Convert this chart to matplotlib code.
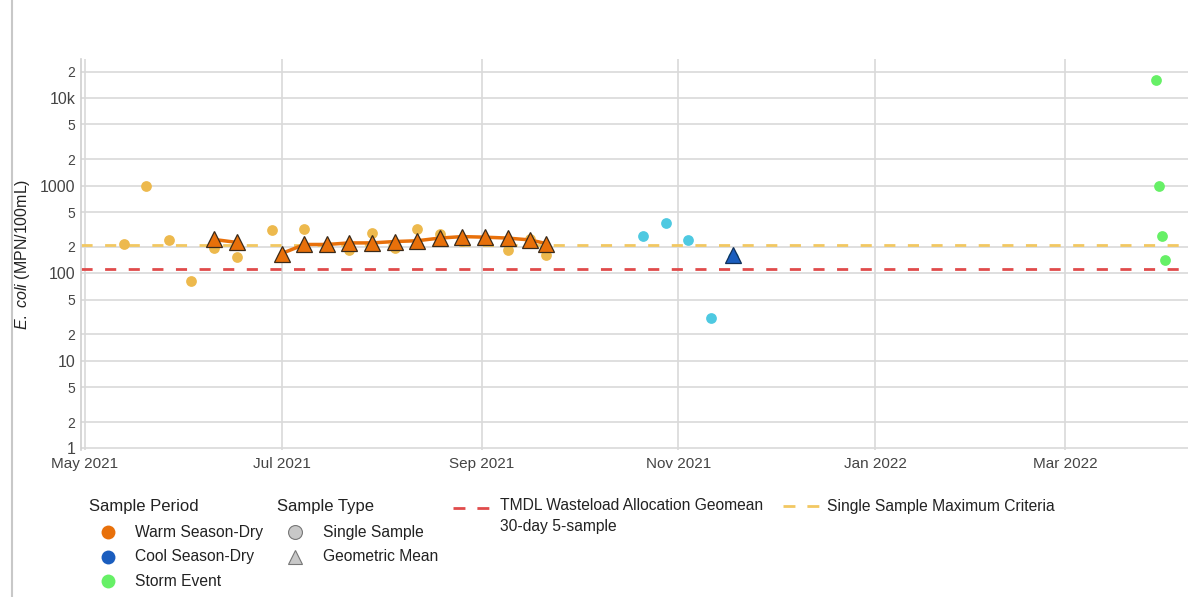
import matplotlib.pyplot as plt
import matplotlib.dates as mdates
from matplotlib.lines import Line2D
import pandas as pd

plt.rcParams["font.family"] = ["Liberation Sans", "DejaVu Sans"]
plt.rcParams["mathtext.fontset"] = "custom"
plt.rcParams["mathtext.rm"] = "Liberation Sans"
plt.rcParams["mathtext.it"] = "Liberation Sans:italic"

# single samples - warm season dry
warm_dates = ["2021-05-13", "2021-05-20", "2021-05-27", "2021-06-03", "2021-06-10",
              "2021-06-17", "2021-06-28", "2021-07-01", "2021-07-08", "2021-07-15",
              "2021-07-22", "2021-07-29", "2021-08-05", "2021-08-12", "2021-08-19",
              "2021-08-26", "2021-09-02", "2021-09-09", "2021-09-16", "2021-09-21"]
warm_vals = [214, 1000, 237, 82, 192, 152, 309, 152, 324, 204,
             183, 285, 192, 324, 282, 232, 240, 184, 244, 161]

# geometric means - warm season dry (two runs)
warm_gm1_dates = ["2021-06-10", "2021-06-17"]
warm_gm1_vals = [243, 225]
warm_gm2_dates = ["2021-07-01", "2021-07-08", "2021-07-15", "2021-07-22", "2021-07-29",
                  "2021-08-05", "2021-08-12", "2021-08-19", "2021-08-26", "2021-09-02",
                  "2021-09-09", "2021-09-16", "2021-09-21"]
warm_gm2_vals = [168, 213, 213, 222, 222, 230, 235, 252, 262, 258, 252, 240, 218]

# cool season dry
cool_dates = ["2021-10-21", "2021-10-28", "2021-11-04", "2021-11-11", "2021-11-18"]
cool_vals = [264, 370, 237, 31, 152]
cool_gm_dates = ["2021-11-18"]
cool_gm_vals = [160]

# storm event
storm_dates = ["2022-03-29", "2022-03-30", "2022-03-31", "2022-04-01"]
storm_vals = [16000, 1000, 265, 141]

tmdl_level = 112
ssm_level = 212

ytick_vals = [1, 2, 5, 10, 20, 50, 100, 200, 500, 1000, 2000, 5000, 10000, 20000]
ytick_labels = ["1", "2", "5", "10", "2", "5", "100", "2", "5", "1000", "2", "5", "10k", "2"]

C_WARM_SS = "#EDB94D"
C_WARM_GM = "#E8700A"
C_COOL_SS = "#4EC9E1"
C_COOL_GM = "#1A5DBE"
C_STORM = "#66F066"
C_RED = "#E04B4B"
C_YEL = "#F2C862"
TXT = "#444444"

d = pd.to_datetime

fig = plt.figure(figsize=(11.9, 5.97), dpi=100)
ax = fig.add_axes([81 / 1190, 1 - 450 / 597, (1188 - 81) / 1190, (450 - 59) / 597])

ax.set_yscale("log")
ax.set_ylim(0.96, 27900)
ax.set_xlim(d("2021-04-29 18:00"), d("2022-04-08"))

ax.axhline(tmdl_level, color=C_RED, lw=2, ls=(0, (4, 4.5)), zorder=2)
ax.axhline(ssm_level, color=C_YEL, lw=2, ls=(0, (4, 4.5)), zorder=2)

ax.scatter(d(warm_dates), warm_vals, s=60, color=C_WARM_SS, zorder=3, linewidths=0)
ax.scatter(d(cool_dates), cool_vals, s=60, color=C_COOL_SS, zorder=3, linewidths=0)
ax.scatter(d(storm_dates), storm_vals, s=60, color=C_STORM, zorder=3, linewidths=0)

for dates, vals in [(warm_gm1_dates, warm_gm1_vals), (warm_gm2_dates, warm_gm2_vals)]:
    ax.plot(d(dates), vals, color=C_WARM_GM, lw=2.5, zorder=4)
    ax.plot(d(dates), vals, ls="none", marker="^", ms=11.5, mfc=C_WARM_GM,
            mec="#3a2a1a", mew=0.9, zorder=5)
ax.plot(d(cool_gm_dates), cool_gm_vals, ls="none", marker="^", ms=11.5, mfc=C_COOL_GM,
        mec="#10305a", mew=0.9, zorder=5)

# axes styling
ax.set_yticks(ytick_vals)
ax.set_yticklabels(ytick_labels)
ax.yaxis.set_minor_locator(plt.NullLocator())
for lab, v in zip(ax.get_yticklabels(), ytick_vals):
    major = str(v)[0] == "1"
    lab.set_fontsize(11.5 if major else 10)
ax.tick_params(axis="y", length=0, pad=4, colors=TXT)
ax.xaxis.set_major_locator(mdates.MonthLocator(bymonth=[1, 3, 5, 7, 9, 11]))
ax.xaxis.set_major_formatter(mdates.DateFormatter("%b %Y"))
ax.tick_params(axis="x", length=0, pad=5, labelsize=11, colors=TXT)
ax.grid(True, color="#d9d9d9", lw=1.2)
ax.set_axisbelow(True)
for s in ["top", "right", "bottom"]:
    ax.spines[s].set_visible(False)
ax.spines["left"].set_color("#d0d0d0")
ax.spines["left"].set_linewidth(1.2)
ax.set_ylabel(r"$\mathit{E.\ coli}$ (MPN/100mL)", fontsize=11.5, color="#222222", labelpad=6)

# page border line on the left
fig.add_artist(Line2D([12 / 1190, 12 / 1190], [0, 1], color="#c8c8c8", lw=1.5))

# legend drawn by hand in figure pixels
def fx(x):
    return x / 1190

def fy(y):
    return 1 - y / 597

fs = 11.25
fig.text(fx(89), fy(507), "Sample Period", fontsize=12, color="#222222", va="center")
fig.text(fx(277), fy(507), "Sample Type", fontsize=12, color="#222222", va="center")
period = [("Warm Season-Dry", C_WARM_GM), ("Cool Season-Dry", C_COOL_GM), ("Storm Event", C_STORM)]
for i, (name, c) in enumerate(period):
    y = 532 + i * 24.5
    fig.add_artist(Line2D([fx(108)], [fy(y)], marker="o", ms=10, color=c, mew=0))
    fig.text(fx(135), fy(y), name, fontsize=fs, color="#222222", va="center")
types = [("Single Sample", "o", 10), ("Geometric Mean", "^", 10.5)]
for i, (name, m, ms) in enumerate(types):
    y = 532 + i * 24.5
    fig.add_artist(Line2D([fx(295)], [fy(y)], marker=m, ms=ms, mfc="#c8c8c8",
                          mec="#777777", mew=0.8))
    fig.text(fx(323), fy(y), name, fontsize=fs, color="#222222", va="center")
fig.add_artist(Line2D([fx(453), fx(489)], [fy(508), fy(508)], color=C_RED, lw=2,
                      ls=(0, (4.3, 4.3))))
fig.text(fx(500), fy(506), "TMDL Wasteload Allocation Geomean", fontsize=fs,
         color="#222222", va="center")
fig.text(fx(500), fy(526), "30-day 5-sample", fontsize=fs, color="#222222", va="center")
fig.add_artist(Line2D([fx(783), fx(819)], [fy(506), fy(506)], color=C_YEL, lw=2,
                      ls=(0, (4.3, 4.3))))
fig.text(fx(827), fy(506), "Single Sample Maximum Criteria", fontsize=fs,
         color="#222222", va="center")

fig.savefig("out.png", dpi=100)
